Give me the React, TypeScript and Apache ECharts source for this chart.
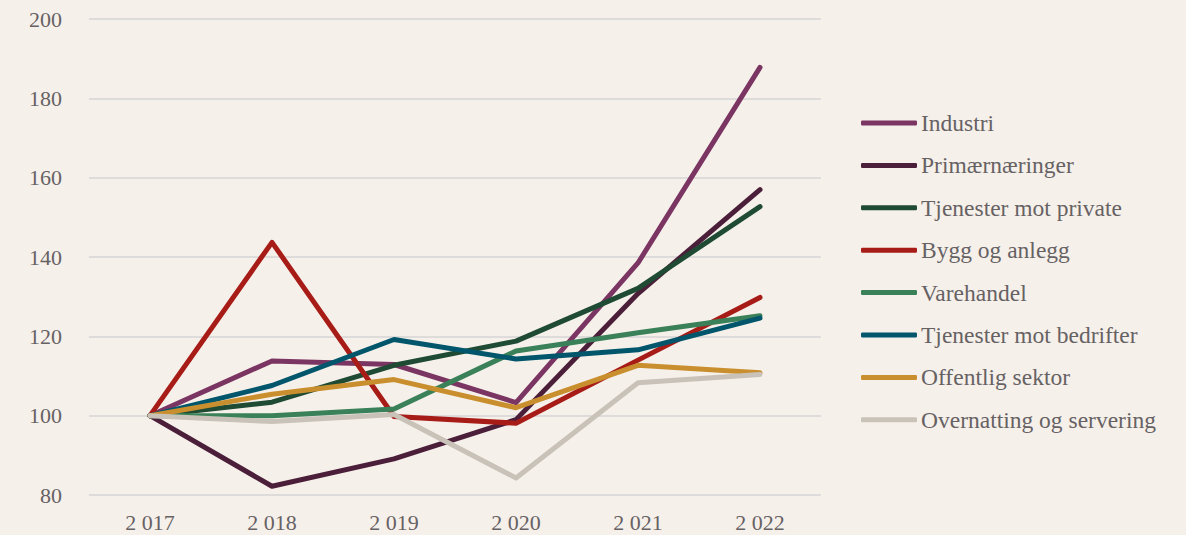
import React, { useEffect, useRef } from "react";
import * as echarts from "echarts";

const years = ["2 017", "2 018", "2 019", "2 020", "2 021", "2 022"];
const industri = [100, 113.8, 112.9, 103.3, 138.5, 187.8];
const primaer = [100, 82.2, 89.1, 99, 130.8, 157];
const tjPrivate = [100, 103.4, 112.7, 118.8, 132.1, 152.7];
const bygg = [100, 143.7, 99.8, 98.1, 114, 129.8];
const varehandel = [100, 100, 101.7, 116.3, 120.9, 125.2];
const tjBedrifter = [100, 107.6, 119.2, 114.3, 116.6, 124.6];
const offentlig = [100, 105.4, 109.1, 102, 112.7, 110.8];
const overnatting = [100, 98.5, 100.3, 84.3, 108.3, 110.4];

const seriesDefs = [
  { name: "Industri", data: industri, color: "#7b3562" },
  { name: "Primærnæringer", data: primaer, color: "#4b1f3a" },
  { name: "Tjenester mot private", data: tjPrivate, color: "#1f4a33" },
  { name: "Bygg og anlegg", data: bygg, color: "#a81c18" },
  { name: "Varehandel", data: varehandel, color: "#3a8159" },
  { name: "Tjenester mot bedrifter", data: tjBedrifter, color: "#01566c" },
  { name: "Offentlig sektor", data: offentlig, color: "#c98f2f" },
  { name: "Overnatting og servering", data: overnatting, color: "#c9c2b8" },
];

export default function App() {
  const ref = useRef<HTMLDivElement>(null);
  useEffect(() => {
    document.body.style.margin = "0";
    const chart = echarts.init(ref.current!, null, { renderer: "svg" });
    const font = "Liberation Serif";
    const textColor = "#666264";
    chart.setOption({
      animation: false,
      backgroundColor: "#f6f0ea",
      textStyle: { fontFamily: font },
      grid: { left: 89, right: 365, top: 19, bottom: 40 },
      xAxis: {
        type: "category",
        data: years,
        boundaryGap: true,
        axisLine: { show: false },
        axisTick: { show: false },
        axisLabel: { color: textColor, fontSize: 22, fontFamily: font, margin: 16 },
      },
      yAxis: {
        type: "value",
        min: 80,
        max: 200,
        interval: 20,
        axisLine: { show: false },
        axisTick: { show: false },
        axisLabel: { color: textColor, fontSize: 22, fontFamily: font, margin: 27 },
        splitLine: { lineStyle: { color: "#dedbdb", width: 2 } },
      },
      legend: {
        orient: "vertical",
        left: 856,
        top: 106,
        icon: "roundRect",
        itemWidth: 56,
        itemHeight: 5,
        itemGap: 18.4,
        textStyle: { color: textColor, fontSize: 23.5, lineHeight: 24, fontFamily: font, padding: [0, 0, 0, -1] },
        data: seriesDefs.map((s) => s.name),
      },
      series: seriesDefs.map((s) => ({
        name: s.name,
        type: "line",
        data: s.data,
        symbol: "none",
        color: s.color,
        lineStyle: { width: 5, color: s.color, cap: "round", join: "round" },
      })),
    });
    return () => chart.dispose();
  }, []);
  return <div ref={ref} style={{ width: 1186, height: 535 }} />;
}
